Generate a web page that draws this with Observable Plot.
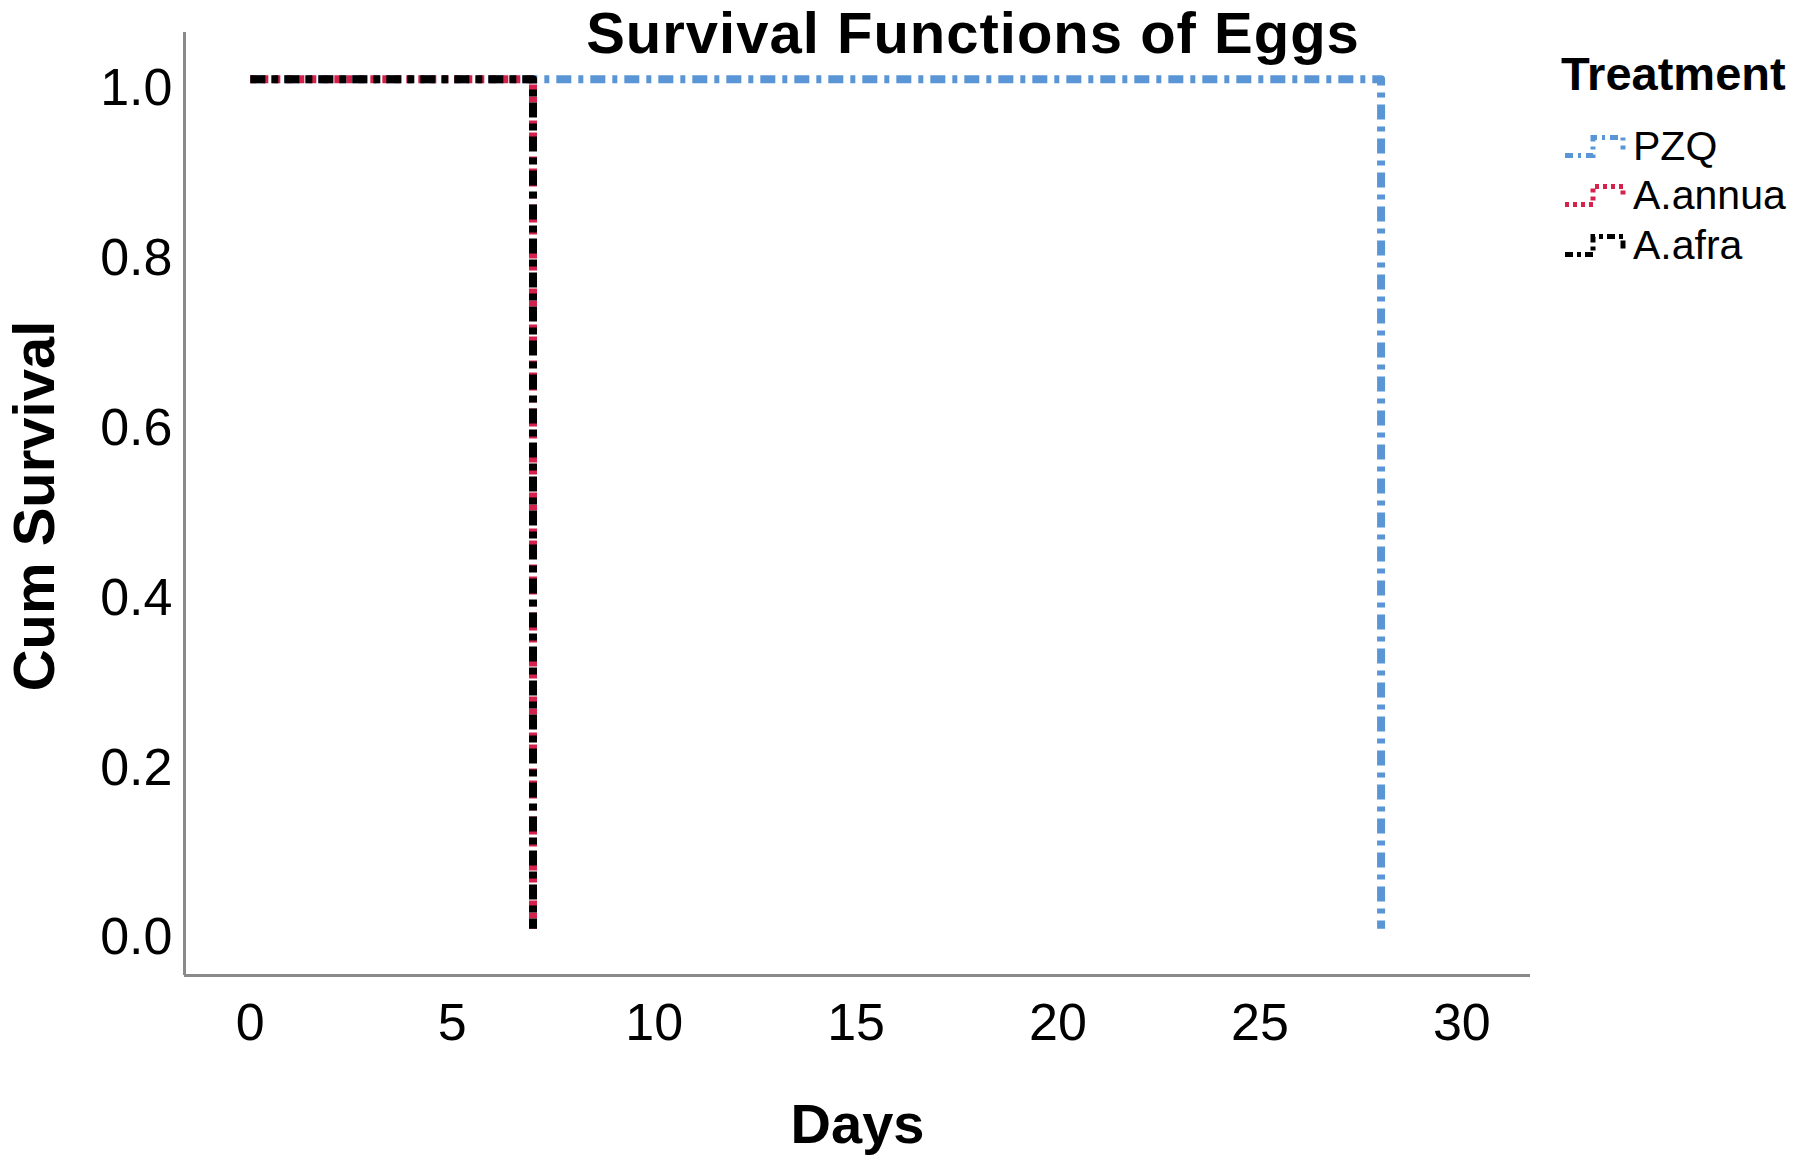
<!DOCTYPE html>
<html>
<head>
<meta charset="utf-8">
<script src="https://cdn.jsdelivr.net/npm/d3@7"></script>
<script src="https://cdn.jsdelivr.net/npm/@observablehq/plot@0.6"></script>
<style>
  html, body { margin: 0; padding: 0; background: #fff; }
  #wrap { position: relative; width: 1800px; height: 1164px; font-family: "Liberation Sans", Arial, sans-serif; }
  #title { position: absolute; left: 973px; top: 4px; transform: translateX(-50%); font-size: 58px; line-height: 1; letter-spacing: 1px; font-weight: bold; white-space: nowrap; color: #000; }
  #legend { position: absolute; left: 1561px; top: 0; }
  .ltitle { position: absolute; left: 0; top: 73px; transform: translateY(-50%); font-size: 47px; font-weight: bold; white-space: nowrap; }
  .litem { position: absolute; left: 0; transform: translateY(-50%); white-space: nowrap; display: flex; align-items: center; }
  .litem span { font-size: 41px; margin-left: 2px; }
</style>
</head>
<body>
<div id="wrap">
  <div id="chart"></div>
  <div id="title">Survival Functions of Eggs</div>
  <div id="legend"></div>
</div>
<script>
// Data
const treatments = ["PZQ", "A.annua", "A.afra"];
const pzqDays = [0, 28];
const pzqSurvival = [1, 0];
const annuaDays = [0, 7];
const annuaSurvival = [1, 0];
const afraDays = [0, 7];
const afraSurvival = [1, 0];
const xTicks = [0, 5, 10, 15, 20, 25, 30];
const yTicks = [0, 0.2, 0.4, 0.6, 0.8, 1.0];

const colors = {"PZQ": "#5a96d6", "A.annua": "#d4224c", "A.afra": "#000000"};
const dashes = {"PZQ": "15,7,5,7", "A.annua": "6,6", "A.afra": "15,6,7,6"};
const legendDashes = {"PZQ": "8,5,3,5", "A.annua": "4,4", "A.afra": "8,4,4,4"};

const series = [
  {name: "PZQ", days: pzqDays, surv: pzqSurvival},
  {name: "A.annua", days: annuaDays, surv: annuaSurvival},
  {name: "A.afra", days: afraDays, surv: afraSurvival}
];
const rows = series.flatMap(s => s.days.map((d, i) => ({treatment: s.name, day: d, survival: s.surv[i]})));

const xDomain = [-1.63, 31.7];
const yDomain = [-0.055, 1.055];
const font = "'Liberation Sans', Arial, sans-serif";

const lineMarks = series.map(s => Plot.line(rows.filter(r => r.treatment === s.name), {
  x: "day", y: "survival", curve: "step-after",
  stroke: colors[s.name], strokeWidth: 8, strokeDasharray: dashes[s.name], strokeLinecap: "butt"
}));

const chart = Plot.plot({
  width: 1800, height: 1164,
  marginLeft: 184, marginRight: 270, marginTop: 32, marginBottom: 189,
  x: {domain: xDomain},
  y: {domain: yDomain},
  style: {fontFamily: font, background: "white", color: "#000"},
  marks: [
    Plot.ruleX([xDomain[0]], {stroke: "#8a8a8a", strokeWidth: 3}),
    Plot.ruleY([yDomain[0]], {stroke: "#8a8a8a", strokeWidth: 3}),
    Plot.axisX({ticks: xTicks, tickSize: 0, tickPadding: 28, fontSize: 52, label: null, tickFormat: d3.format("d")}),
    Plot.axisY({ticks: yTicks, tickSize: 0, tickPadding: 12, fontSize: 52, label: null, tickFormat: d3.format(".1f"), dy: 9}),
    ...lineMarks,
    Plot.text(["Days"], {text: d => d, frameAnchor: "bottom", dy: 167, fontSize: 56, fontWeight: "bold"}),
    Plot.text(["Cum Survival"], {text: d => d, frameAnchor: "left", textAnchor: "middle", dx: -149, dy: 2, rotate: -90, fontSize: 58, fontWeight: "bold"})
  ]
});
document.getElementById("chart").appendChild(chart);

// Legend
const legend = document.getElementById("legend");
const lt = document.createElement("div");
lt.className = "ltitle"; lt.textContent = "Treatment";
legend.appendChild(lt);
const rowY = [146, 195, 245];
treatments.forEach((t, i) => {
  const item = document.createElement("div");
  item.className = "litem";
  item.style.top = rowY[i] + "px";
  item.innerHTML = `<svg width="70" height="36" style="display:block"><path d="M4,27 H32 V9 H62 V21" fill="none" stroke="${colors[t]}" stroke-width="5" stroke-dasharray="${legendDashes[t]}"/></svg><span>${t}</span>`;
  legend.appendChild(item);
});
</script>
</body>
</html>
